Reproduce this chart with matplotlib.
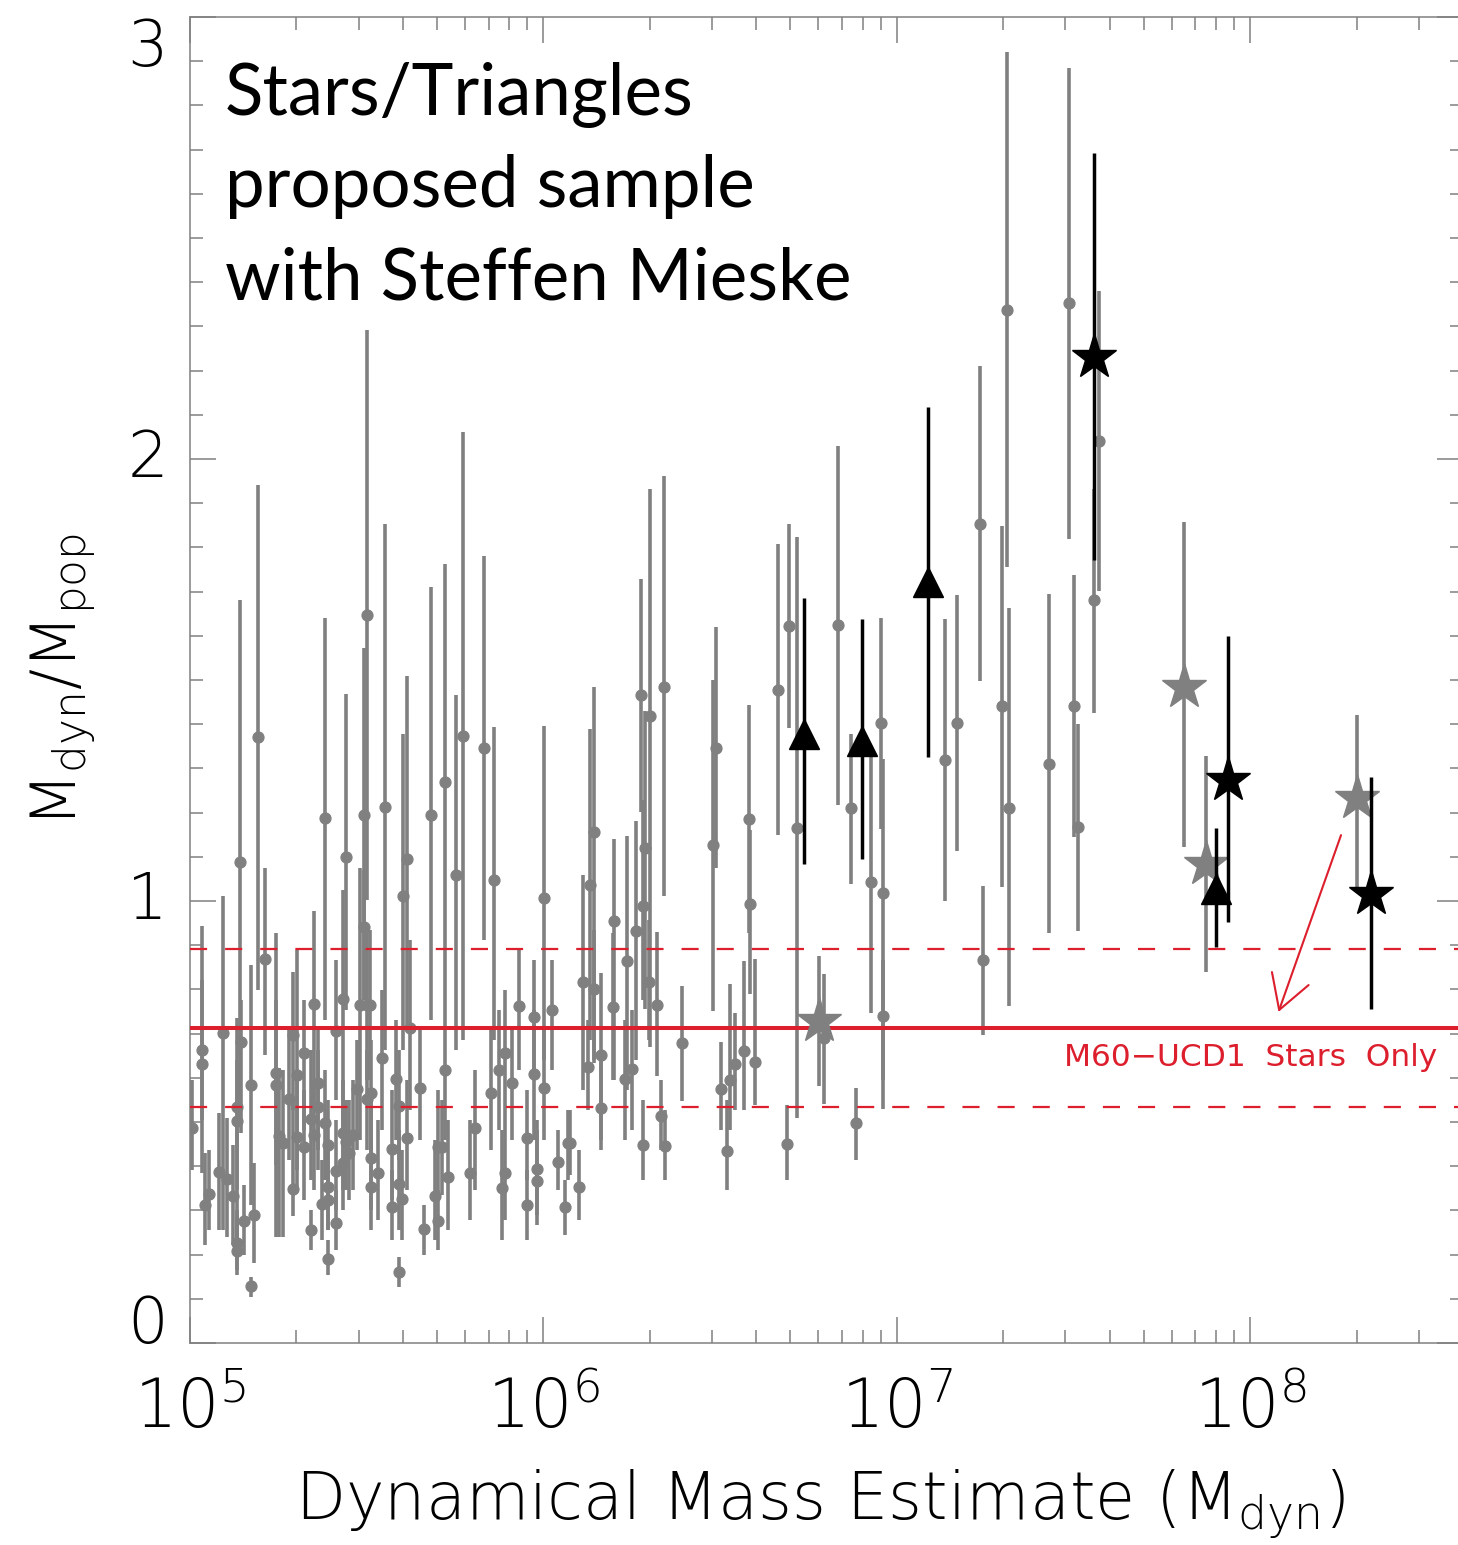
import numpy as np
import matplotlib
matplotlib.use("Agg")
import matplotlib.pyplot as plt
from matplotlib.ticker import LogLocator, NullFormatter, MultipleLocator

# ---------------- data (log10 Mdyn, Mdyn/Mpop, lower / upper error-bar ends) -------------
gray_logm = [5.005, 5.033, 5.033, 5.042, 5.054, 5.093, 5.083, 5.104, 5.123, 5.132,
             5.132, 5.132, 5.132, 5.144, 5.142, 5.153, 5.172, 5.182, 5.172, 5.192,
             5.212, 5.243, 5.243, 5.252, 5.262, 5.281, 5.292, 5.292, 5.302, 5.302,
             5.323, 5.323, 5.342, 5.342, 5.351, 5.351, 5.362, 5.362, 5.373, 5.382,
             5.382, 5.391, 5.391, 5.391, 5.391, 5.412, 5.412, 5.412, 5.432, 5.432,
             5.432, 5.442, 5.442, 5.451, 5.462, 5.472, 5.481, 5.491, 5.491, 5.502,
             5.500, 5.509, 5.502, 5.511, 5.511, 5.511, 5.533, 5.543, 5.552, 5.573,
             5.573, 5.582, 5.592, 5.592, 5.601, 5.592, 5.602, 5.613, 5.623, 5.613,
             5.651, 5.663, 5.682, 5.693, 5.703, 5.712, 5.703, 5.722, 5.722, 5.731,
             5.752, 5.772, 5.793, 5.807, 5.832, 5.852, 5.861, 5.873, 5.882, 5.892,
             5.892, 5.912, 5.932, 5.953, 5.953, 5.972, 5.972, 5.981, 5.981, 6.002,
             6.003, 6.024, 6.042, 6.061, 6.071, 6.102, 6.112, 6.127, 6.132, 6.142,
             6.142, 6.163, 6.163, 6.196, 6.201, 6.231, 6.236, 6.250, 6.262, 6.277,
             6.281, 6.288, 6.302, 6.300, 6.321, 6.332, 6.281, 6.345, 6.342, 6.392,
             6.074, 6.480, 6.489, 6.502, 6.529, 6.543, 6.568, 6.599, 6.520, 6.583,
             6.585, 6.664, 6.696, 6.718, 6.689, 6.795, 6.835, 6.871, 6.884, 6.928,
             6.956, 6.962, 6.962, 7.135, 7.170, 7.236, 7.244, 7.298, 7.312, 7.318,
             7.431, 7.488, 7.500, 7.514, 7.559, 7.573]
gray_ratio = [0.486, 0.663, 0.631, 0.312, 0.337, 0.701, 0.387, 0.371, 0.333, 0.534,
              0.502, 0.226, 0.208, 0.681, 1.088, 0.276, 0.584, 0.290, 0.129, 1.371,
              0.869, 0.611, 0.584, 0.468, 0.452, 0.552, 0.697, 0.348, 0.606, 0.466,
              0.656, 0.443, 0.507, 0.256, 0.767, 0.471, 0.588, 0.534, 0.314, 1.188,
              0.498, 0.448, 0.353, 0.324, 0.190, 0.706, 0.389, 0.271, 0.778, 0.475,
              0.407, 1.100, 0.455, 0.430, 0.471, 0.575, 0.765, 1.195, 0.941, 1.647,
              0.765, 0.765, 0.552, 0.566, 0.419, 0.353, 0.385, 0.645, 1.213, 0.439,
              0.308, 0.597, 0.536, 0.360, 0.326, 0.161, 1.011, 1.095, 0.713, 0.464,
              0.577, 0.258, 1.195, 0.333, 0.443, 0.443, 0.276, 1.269, 0.618, 0.376,
              1.059, 1.373, 0.385, 0.486, 1.346, 0.566, 1.047, 0.618, 0.351, 0.656,
              0.385, 0.588, 0.762, 0.464, 0.312, 0.738, 0.609, 0.394, 0.367, 1.007,
              0.577, 0.753, 0.409, 0.308, 0.452, 0.353, 0.817, 0.624, 1.036, 1.156,
              0.801, 0.652, 0.532, 0.760, 0.955, 0.597, 0.864, 0.620, 0.932, 1.466,
              0.989, 1.120, 1.419, 0.817, 0.765, 0.514, 0.448, 0.446, 1.484, 0.679,
              0.452, 1.127, 1.346, 0.575, 0.595, 0.631, 0.661, 0.636, 0.434, 1.186,
              0.993, 1.477, 1.622, 1.165, 0.450, 0.690, 1.624, 1.210, 0.498, 1.043,
              1.403, 1.018, 0.740, 1.319, 1.403, 1.853, 0.867, 1.441, 2.337, 1.210,
              1.310, 2.353, 1.441, 1.167, 1.681, 2.041]
gray_lo = [0.391, 0.505, 0.385, 0.222, 0.256, 0.256, 0.256, 0.240, 0.222, 0.233,
           0.346, 0.165, 0.154, 0.475, 0.505, 0.199, 0.312, 0.181, 0.104, 0.799,
           0.652, 0.240, 0.403, 0.240, 0.240, 0.414, 0.527, 0.287, 0.391, 0.346,
           0.482, 0.324, 0.369, 0.210, 0.527, 0.346, 0.437, 0.391, 0.233, 0.731,
           0.369, 0.324, 0.256, 0.256, 0.154, 0.550, 0.301, 0.210, 0.505, 0.346,
           0.301, 0.753, 0.346, 0.324, 0.346, 0.437, 0.459, 0.776, 0.776, 1.002,
           0.595, 0.595, 0.437, 0.437, 0.301, 0.256, 0.278, 0.482, 0.663, 0.324,
           0.233, 0.459, 0.414, 0.256, 0.233, 0.127, 0.663, 0.708, 0.527, 0.346,
           0.459, 0.199, 0.731, 0.233, 0.324, 0.335, 0.210, 0.776, 0.459, 0.256,
           0.663, 0.686, 0.278, 0.346, 0.912, 0.437, 0.686, 0.482, 0.233, 0.505,
           0.278, 0.459, 0.618, 0.369, 0.233, 0.595, 0.459, 0.290, 0.267, 0.640,
           0.459, 0.618, 0.346, 0.244, 0.369, 0.278, 0.572, 0.527, 0.686, 0.633,
           0.640, 0.459, 0.437, 0.595, 0.595, 0.459, 0.572, 0.482, 0.640, 1.201,
           0.776, 0.756, 0.670, 0.686, 0.604, 0.437, 0.369, 0.369, 1.011, 0.548,
           0.380, 0.751, 1.075, 0.482, 0.482, 0.527, 0.527, 0.538, 0.346, 0.928,
           0.790, 1.149, 1.391, 0.509, 0.369, 0.541, 1.217, 1.038, 0.414, 0.747,
           1.163, 0.529, 0.595, 1.000, 1.113, 1.498, 0.697, 1.032, 1.756, 0.762,
           0.928, 1.819, 1.145, 0.932, 1.425, 1.701]
gray_hi = [0.595, 0.943, 0.821, 0.430, 0.437, 1.011, 0.520, 0.509, 0.448, 0.735,
           0.640, 0.301, 0.290, 0.776, 1.681, 0.357, 0.855, 0.407, 0.149, 1.941,
           1.075, 0.928, 0.776, 0.622, 0.618, 0.708, 0.839, 0.550, 0.889, 0.595,
           0.776, 0.572, 0.663, 0.301, 0.977, 0.595, 0.708, 0.663, 0.414, 1.640,
           0.618, 0.550, 0.459, 0.391, 0.233, 0.867, 0.505, 0.346, 1.025, 0.595,
           0.527, 1.468, 0.550, 0.550, 0.595, 0.686, 1.075, 1.572, 1.070, 2.292,
           0.934, 0.934, 0.663, 0.686, 0.550, 0.459, 0.505, 0.799, 1.853, 0.572,
           0.391, 0.731, 0.663, 0.482, 0.437, 0.195, 1.378, 1.509, 0.912, 0.595,
           0.708, 0.312, 1.710, 0.459, 0.572, 0.550, 0.346, 1.762, 0.776, 0.505,
           1.466, 2.061, 0.505, 0.618, 1.781, 0.708, 1.394, 0.753, 0.482, 0.799,
           0.505, 0.708, 0.889, 0.572, 0.391, 0.867, 0.753, 0.505, 0.482, 1.396,
           0.708, 0.867, 0.482, 0.369, 0.527, 0.437, 1.059, 0.731, 1.389, 1.484,
           0.934, 0.837, 0.640, 0.928, 1.140, 0.731, 1.147, 0.753, 1.181, 1.728,
           1.228, 1.430, 1.932, 0.957, 0.930, 0.595, 0.550, 0.527, 1.962, 0.808,
           0.527, 1.500, 1.620, 0.681, 0.812, 0.747, 0.864, 0.869, 0.550, 1.443,
           1.161, 1.808, 1.853, 1.824, 0.538, 0.835, 2.029, 1.378, 0.577, 1.326,
           1.640, 1.321, 0.867, 1.638, 1.692, 2.210, 1.034, 1.848, 2.921, 1.663,
           1.695, 2.885, 1.738, 1.400, 1.932, 2.380]

tri_logm = [6.736, 6.901, 7.088, 7.903]
tri_ratio = [1.378, 1.362, 1.721, 1.027]
tri_lo = [1.084, 1.095, 1.326, 0.896]
tri_hi = [1.686, 1.638, 2.118, 1.165]

bstar_logm = [7.557, 7.937, 8.343]
bstar_ratio = [2.231, 1.274, 1.016]
bstar_lo = [1.771, 0.952, 0.756]
bstar_hi = [2.692, 1.600, 1.281]

gstar_logm = [6.781, 7.814, 7.876, 8.302]
gstar_ratio = [0.729, 1.484, 1.084, 1.234]
gstar_lo = [0.581, 1.122, 0.839, 1.032]
gstar_hi = [0.876, 1.857, 1.328, 1.421]

m60_ratio = 0.713
m60_lo = 0.534
m60_hi = 0.891
m60_label = "M60\u2212UCD1  Stars  Only"
arrow_tail = (8.257, 1.149)   # log10 Mdyn, ratio
arrow_head = (8.080, 0.749)

x_major = [1e5, 1e6, 1e7, 1e8]
x_labels = [r"$10^{5}$", r"$10^{6}$", r"$10^{7}$", r"$10^{8}$"]
y_major = [0, 1, 2, 3]
y_labels = ["0", "1", "2", "3"]
note_lines = ["Stars/Triangles", "proposed sample", "with Steffen Mieske"]

# ---------------- style ----------------
plt.rcParams["font.family"] = ["DejaVu Sans"]
plt.rcParams["font.weight"] = "light"
plt.rcParams["axes.labelweight"] = "light"
plt.rcParams["mathtext.fontset"] = "custom"
plt.rcParams["mathtext.rm"] = "DejaVu Sans:light"
plt.rcParams["mathtext.it"] = "DejaVu Sans:light"
plt.rcParams["mathtext.default"] = "regular"

GRAY = "#808080"
RED = "#dc1e2d"

W, H = 1458, 1545
fig = plt.figure(figsize=(W / 100, H / 100), dpi=100)
ax = fig.add_axes([190 / W, 1 - 1343 / H, 1273 / W, 1326 / H])

def err(y, lo, hi):
    y = np.asarray(y); lo = np.asarray(lo); hi = np.asarray(hi)
    return np.vstack([y - lo, hi - y])

gx = 10 ** np.asarray(gray_logm)
ax.errorbar(gx, gray_ratio, yerr=err(gray_ratio, gray_lo, gray_hi), fmt="o",
            color=GRAY, ms=7.8, elinewidth=2.6, capsize=0, zorder=2)

ax.axhline(m60_ratio, color=RED, lw=2.9, zorder=3)
for v in (m60_lo, m60_hi):
    ax.axhline(v, color=RED, lw=1.6, linestyle=(0, (7.7, 8.1)), zorder=3)

ax.errorbar(10 ** np.asarray(gstar_logm), gstar_ratio,
            yerr=err(gstar_ratio, gstar_lo, gstar_hi), fmt="*", color=GRAY,
            ms=34, elinewidth=2.6, capsize=0, zorder=4)
ax.errorbar(10 ** np.asarray(tri_logm), tri_ratio,
            yerr=err(tri_ratio, tri_lo, tri_hi), fmt="^", color="black",
            ms=21, elinewidth=2.5, capsize=0, zorder=5)
ax.errorbar(10 ** np.asarray(bstar_logm), bstar_ratio,
            yerr=err(bstar_ratio, bstar_lo, bstar_hi), fmt="*", color="black",
            ms=34, elinewidth=2.5, capsize=0, zorder=5)

ax.annotate("", xy=(10 ** arrow_head[0], arrow_head[1]),
            xytext=(10 ** arrow_tail[0], arrow_tail[1]),
            arrowprops=dict(arrowstyle="->,head_length=0.6,head_width=0.35",
                            color=RED, lw=1.5, mutation_scale=40,
                            shrinkA=0, shrinkB=0), zorder=6)
ax.text(10 ** 8.530, 0.645, m60_label, color=RED, fontsize=22.5,
        fontweight="normal", ha="right", va="center", zorder=6)

for line, yb in zip(note_lines, [0.926, 0.857, 0.787]):
    ax.text(0.0275, yb, line, transform=ax.transAxes, fontsize=51,
            family="Lato", fontweight="normal", ha="left", va="baseline",
            color="black", zorder=7)

# ---------------- axes ----------------
ax.set_xscale("log")
ax.set_xlim(1e5, 10 ** (5 + 1273 / 353.4))
ax.set_ylim(0, 3)
ax.set_xticks(x_major)
ax.set_xticklabels(x_labels)
ax.xaxis.set_minor_locator(LogLocator(base=10, subs=np.arange(2, 10)))
ax.xaxis.set_minor_formatter(NullFormatter())
ax.set_yticks(y_major)
ax.set_yticklabels(y_labels)
ax.yaxis.set_minor_locator(MultipleLocator(0.1))

ax.tick_params(which="both", direction="in", top=True, right=True,
               color=GRAY, labelcolor="black")
ax.tick_params(axis="x", which="major", labelsize=48, pad=24)
ax.tick_params(axis="y", which="major", labelsize=46, pad=16)
ax.tick_params(which="major", length=18.7, width=1.1)
ax.tick_params(which="minor", length=9.4, width=1.1)
for lab, va in zip(ax.get_yticklabels(), ["baseline", "center", "center", "top"]):
    lab.set_va(va)
for s in ax.spines.values():
    s.set_color(GRAY)
    s.set_linewidth(1.1)

ax.set_xlabel("Dynamical Mass Estimate (M$_{dyn}$)", fontsize=47,
              fontweight="light")
ax.xaxis.set_label_coords(0.495, -0.094)
ax.set_ylabel("M$_{dyn}$/M$_{pop}$", fontsize=45, fontweight="light")
ax.yaxis.set_label_coords(-0.072, 0.5)

fig.savefig("out.png", dpi=100)
